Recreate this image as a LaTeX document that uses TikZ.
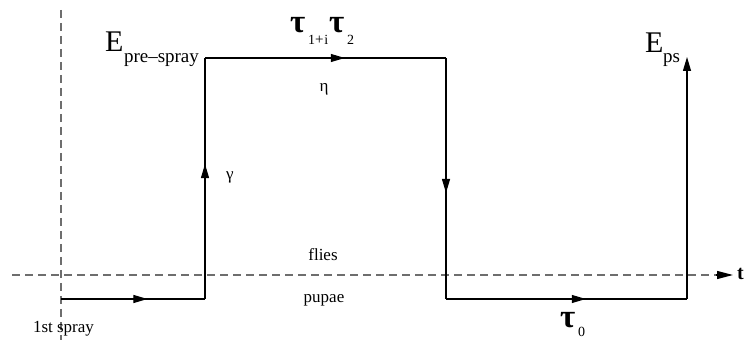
\documentclass[tikz,border=0pt]{standalone}
\usepackage{fontspec}
\setmainfont{Liberation Serif}
\usetikzlibrary{arrows.meta,decorations.markings}
\definecolor{dashgray}{RGB}{110,110,110}
\tikzset{
  flow/.style={line width=1.1pt,black},
  midarrow/.style={postaction={decorate},decoration={markings,mark=at position #1 with {\arrow{Triangle[length=14pt,width=8pt]}}}},
  guide/.style={line width=1.4pt,dashgray,dash pattern=on 8pt off 5pt},
  lbl/.style={inner sep=0pt,outer sep=0pt},
}
\newcommand{\fs}[1]{\fontsize{#1}{#1}\selectfont}
\begin{document}
\begin{tikzpicture}[x=1pt,y=-1pt]
\useasboundingbox (0,0) rectangle (749,344);
% guide lines
\coordinate (v0) at (61,10);
\coordinate (v1) at (61,340);
\coordinate (h0) at (12,275);
\coordinate (h1) at (733,275);
\draw[guide] (v0) -- (v1);
\draw[guide] (h0) -- ([xshift=-12pt]h1);
\draw[line width=1.2pt,-{Triangle[length=16pt,width=8pt]}] ([xshift=-17pt]h1) -- (h1);
% path corners
\coordinate (s) at (61,299);
\coordinate (a) at (205,299);
\coordinate (b) at (205,58);
\coordinate (c) at (446,58);
\coordinate (d) at (446,299);
\coordinate (e) at (687,299);
\coordinate (f) at (687,57);
\draw[flow,midarrow=0.6] (s) -- (a);
\draw[flow,midarrow=0.56] (a) -- (b);
\draw[flow,midarrow=0.58] (b) -- (c);
\draw[flow,midarrow=0.56] (c) -- (d);
\draw[flow,midarrow=0.58] (d) -- (e);
\draw[flow,-{Triangle[length=14pt,width=8pt]}] (e) -- (f);
% labels
\node[lbl,anchor=base west] (Epre) at (105,52) {\fs{30}E};
\node[lbl,anchor=base west] (Epresub) at (124,63) {\fs{19}pre–spray};
\node[lbl,anchor=base west] (Eps) at (645,53) {\fs{30}E};
\node[lbl,anchor=base west] (Epssub) at (663,63) {\fs{19}ps};
\node[lbl,anchor=base west] (tauA) at (290,33) {\fs{33}\textbf{τ}};
\node[lbl,anchor=base west] (subA) at (308,45) {\fs{14}1\fs{15}+\fs{14}\kern1pt i};
\node[lbl,anchor=base west] (tauB) at (329,33) {\fs{33}\textbf{τ}};
\node[lbl,anchor=base west] (subB) at (347,45) {\fs{14}2};
\node[lbl,anchor=base west] (tau0) at (560,327) {\fs{33}\textbf{τ}};
\node[lbl,anchor=base west] (sub0) at (578,337) {\fs{14}0};
\node[lbl] (eta) at (324,89) {\fs{17}η};
\node[lbl] (gamma) at (230,177) {\fs{17}γ};
\node[lbl,anchor=base] (flies) at (323,261) {\fs{17}flies};
\node[lbl,anchor=base] (pupae) at (324,303) {\fs{17}pupae};
\node[lbl,anchor=base west] (spray) at (33,333) {\fs{17}1st spray};
\node[lbl,anchor=base west] (t) at (737,280) {\fs{20}\textbf{t}};
\end{tikzpicture}
\end{document}
